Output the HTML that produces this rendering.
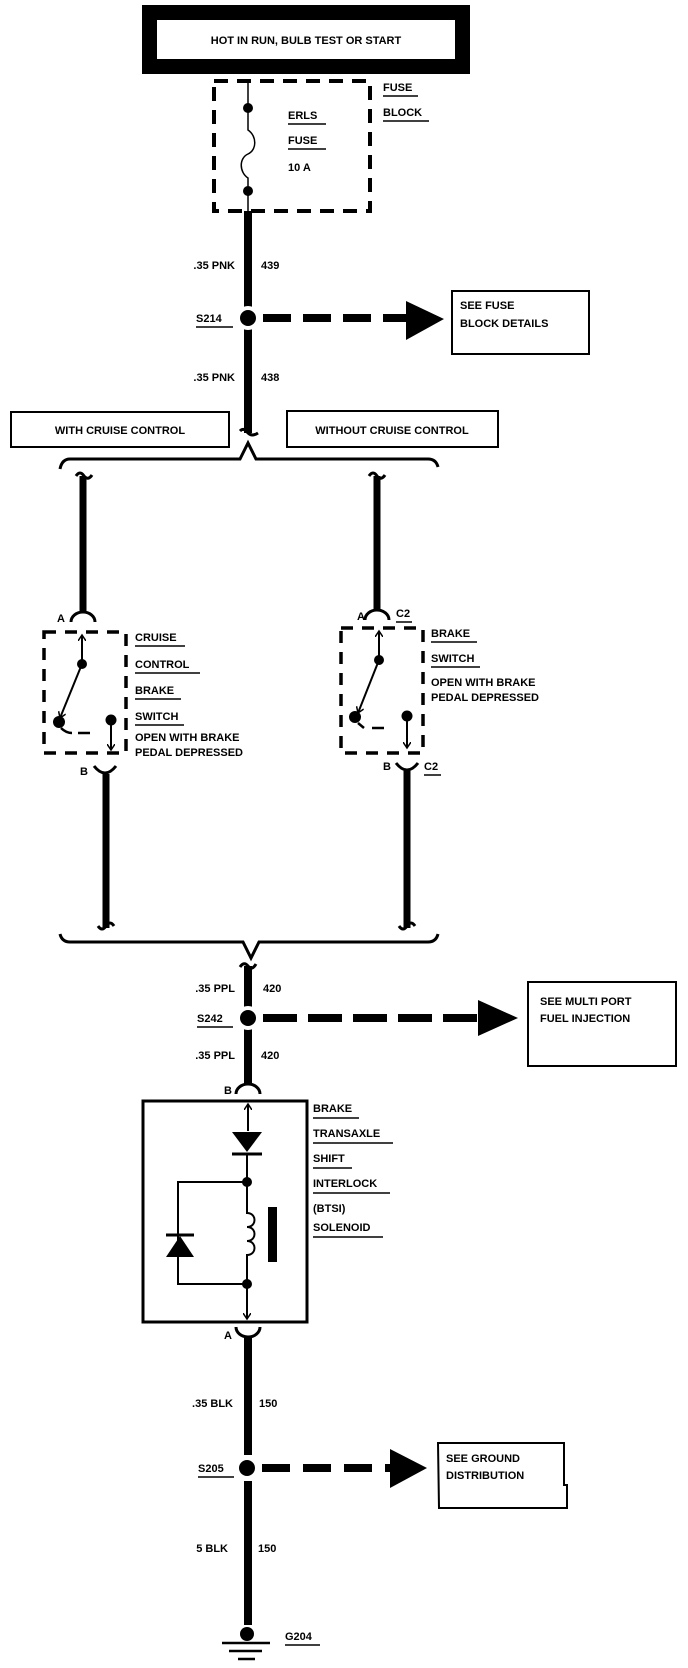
<!DOCTYPE html>
<html><head><meta charset="utf-8"><style>
html,body{margin:0;padding:0;background:#fff;}
svg{display:block;}
text{font-family:"Liberation Sans",sans-serif;font-weight:bold;font-size:11px;fill:#000;}
</style></head><body>
<svg width="688" height="1668" viewBox="0 0 688 1668" xmlns="http://www.w3.org/2000/svg">
<defs>
<marker id="ah" markerWidth="8" markerHeight="8" refX="6" refY="4" orient="auto" markerUnits="userSpaceOnUse"><path d="M0,0 L6,4 L0,8" fill="none" stroke="#000" stroke-width="1.5"/></marker>
</defs>
<!-- top box -->
<rect x="149.5" y="12.5" width="313" height="54" fill="#fff" stroke="#000" stroke-width="15"/>
<text x="306" y="44" text-anchor="middle" font-size="12">HOT IN RUN, BULB TEST OR START</text>
<g transform="translate(-5,0)">
<!-- fuse block -->
<rect x="219" y="81" width="156" height="130" fill="none" stroke="#000" stroke-width="4" stroke-dasharray="14,9"/>
<path d="M253,81 V108 M253,108 V130 C262,136 262,150 253,154 C244,158 244,172 253,178 V191" fill="none" stroke="#000" stroke-width="1.5"/>
<circle cx="253" cy="108" r="5"/><circle cx="253" cy="191" r="5"/>
<line x1="253" y1="191" x2="253" y2="211" stroke="#000" stroke-width="1.5"/>
<text x="293" y="119">ERLS</text><line x1="293" y1="124" x2="331" y2="124" stroke="#000" stroke-width="1.5"/>
<text x="293" y="144">FUSE</text><line x1="293" y1="149" x2="331" y2="149" stroke="#000" stroke-width="1.5"/>
<text x="293" y="171">10 A</text>
<text x="388" y="91">FUSE</text><line x1="388" y1="96" x2="423" y2="96" stroke="#000" stroke-width="1.5"/>
<text x="388" y="116">BLOCK</text><line x1="388" y1="121" x2="434" y2="121" stroke="#000" stroke-width="1.5"/>
<!-- wire to S214 -->
<line x1="253" y1="211" x2="253" y2="433" stroke="#000" stroke-width="8"/>
<text x="240" y="269" text-anchor="end">.35 PNK</text><text x="266" y="269">439</text>
<circle cx="253" cy="318" r="12" fill="#fff"/><circle cx="253" cy="318" r="8"/>
<text x="201" y="322">S214</text><line x1="201" y1="327" x2="238" y2="327" stroke="#000" stroke-width="1.5"/>
<line x1="268" y1="318" x2="412" y2="318" stroke="#000" stroke-width="8" stroke-dasharray="28,12"/>
<polygon points="411,301 449,319 411,340" fill="#000"/>
<rect x="457" y="291" width="137" height="63" fill="none" stroke="#000" stroke-width="2"/>
<text x="465" y="309">SEE FUSE</text><text x="465" y="327">BLOCK DETAILS</text>
<text x="240" y="381" text-anchor="end">.35 PNK</text><text x="266" y="381">438</text>
<path d="M245,431 Q249,427 253,433 Q257,437 263,433" fill="none" stroke="#000" stroke-width="3"/>
</g>
<!-- option boxes -->
<rect x="11" y="412" width="218" height="35" fill="none" stroke="#000" stroke-width="2"/>
<text x="120" y="434" text-anchor="middle">WITH CRUISE CONTROL</text>
<rect x="287" y="411" width="211" height="36" fill="none" stroke="#000" stroke-width="2"/>
<text x="392" y="434" text-anchor="middle">WITHOUT CRUISE CONTROL</text>
<!-- top brace -->
<path d="M60,469 Q62,459 70,459 H240 L248,443 L256,459 H428 Q436,459 438,467" fill="none" stroke="#000" stroke-width="3"/>
<!-- left branch -->
<g transform="translate(-3,0)">
<path d="M79,476 Q83,470 87,476 Q91,481 95,475" fill="none" stroke="#000" stroke-width="3"/>
<line x1="86" y1="476" x2="86" y2="613" stroke="#000" stroke-width="7"/>
<path d="M74,622 A12,10 0 0 1 98,622" fill="none" stroke="#000" stroke-width="3"/>
<text x="60" y="622">A</text>
</g>
<rect x="44" y="632" width="82" height="121" fill="none" stroke="#000" stroke-width="3.5" stroke-dasharray="12,9"/>
<line x1="82" y1="664" x2="82" y2="635" stroke="#000" stroke-width="2" marker-end="url(#ah)"/>
<circle cx="82" cy="664" r="5"/>
<line x1="82" y1="664" x2="60" y2="718" stroke="#000" stroke-width="2" marker-end="url(#ah)"/>
<circle cx="59" cy="722" r="6"/>
<path d="M61,728 Q66,733 72,733 M78,733 H90" fill="none" stroke="#000" stroke-width="2.5"/>
<circle cx="111" cy="720" r="5.5"/>
<line x1="111" y1="720" x2="111" y2="750" stroke="#000" stroke-width="2" marker-end="url(#ah)"/>
<g transform="translate(-8,0)">
<path d="M102,766 Q113,780 124,766" fill="none" stroke="#000" stroke-width="3"/>
<text x="88" y="775">B</text>
<line x1="114" y1="774" x2="114" y2="928" stroke="#000" stroke-width="7"/>
<path d="M106,926 Q110,932 114,926 Q118,920 122,926" fill="none" stroke="#000" stroke-width="3"/>
</g>
<g>
<text x="135" y="641">CRUISE</text><line x1="135" y1="646" x2="185" y2="646" stroke="#000" stroke-width="1.5"/>
<text x="135" y="668">CONTROL</text><line x1="135" y1="673" x2="200" y2="673" stroke="#000" stroke-width="1.5"/>
<text x="135" y="694">BRAKE</text><line x1="135" y1="699" x2="181" y2="699" stroke="#000" stroke-width="1.5"/>
<text x="135" y="720">SWITCH</text><line x1="135" y1="725" x2="184" y2="725" stroke="#000" stroke-width="1.5"/>
<text x="135" y="741">OPEN WITH BRAKE</text>
<text x="135" y="756">PEDAL DEPRESSED</text>
</g>
<!-- right branch -->
<g transform="translate(-6,0)">
<path d="M375,476 Q379,470 383,476 Q387,481 391,475" fill="none" stroke="#000" stroke-width="3"/>
<line x1="383" y1="476" x2="383" y2="611" stroke="#000" stroke-width="7"/>
<path d="M371,620 A12,10 0 0 1 395,620" fill="none" stroke="#000" stroke-width="3"/>
<text x="363" y="620">A</text>
<text x="402" y="617">C2</text><line x1="402" y1="622" x2="418" y2="622" stroke="#000" stroke-width="1.5"/>
<rect x="347" y="628" width="82" height="125" fill="none" stroke="#000" stroke-width="3.5" stroke-dasharray="12,9"/>
<line x1="385" y1="660" x2="385" y2="631" stroke="#000" stroke-width="2" marker-end="url(#ah)"/>
<circle cx="385" cy="660" r="5"/>
<line x1="385" y1="660" x2="364" y2="713" stroke="#000" stroke-width="2" marker-end="url(#ah)"/>
<circle cx="361" cy="717" r="6"/>
<path d="M364,723 L370,728 M378,728 H390" fill="none" stroke="#000" stroke-width="2.5"/>
<circle cx="413" cy="716" r="5.5"/>
<line x1="413" y1="716" x2="413" y2="748" stroke="#000" stroke-width="2" marker-end="url(#ah)"/>
<path d="M402,763 Q413,777 424,763" fill="none" stroke="#000" stroke-width="3"/>
<text x="389" y="770">B</text>
<text x="430" y="770">C2</text><line x1="430" y1="775" x2="447" y2="775" stroke="#000" stroke-width="1.5"/>
<line x1="413" y1="771" x2="413" y2="928" stroke="#000" stroke-width="7"/>
<path d="M405,926 Q409,932 413,926 Q417,920 421,926" fill="none" stroke="#000" stroke-width="3"/>
<text x="437" y="637">BRAKE</text><line x1="437" y1="642" x2="483" y2="642" stroke="#000" stroke-width="1.5"/>
<text x="437" y="662">SWITCH</text><line x1="437" y1="667" x2="486" y2="667" stroke="#000" stroke-width="1.5"/>
<text x="437" y="686">OPEN WITH BRAKE</text>
<text x="437" y="701">PEDAL DEPRESSED</text>
</g>
<!-- bottom brace -->
<path d="M60,934 Q62,942 70,942 H243 L251,958 L259,942 H428 Q436,942 438,934" fill="none" stroke="#000" stroke-width="3"/>
<g transform="translate(-5,0)">
<!-- PPL -->
<path d="M245,967 Q249,961 253,966 Q257,971 261,964" fill="none" stroke="#000" stroke-width="3"/>
<line x1="253" y1="966" x2="253" y2="1085" stroke="#000" stroke-width="8"/>
<text x="240" y="992" text-anchor="end">.35 PPL</text><text x="268" y="992">420</text>
<circle cx="253" cy="1018" r="12" fill="#fff"/><circle cx="253" cy="1018" r="8"/>
<text x="202" y="1022">S242</text><line x1="202" y1="1027" x2="238" y2="1027" stroke="#000" stroke-width="1.5"/>
<line x1="268" y1="1018" x2="484" y2="1018" stroke="#000" stroke-width="8" stroke-dasharray="34,11"/>
<polygon points="483,1000 523,1018 483,1036" fill="#000"/>
<rect x="533" y="982" width="148" height="84" fill="none" stroke="#000" stroke-width="2"/>
<text x="545" y="1005">SEE MULTI PORT</text><text x="545" y="1022">FUEL INJECTION</text>
<text x="240" y="1059" text-anchor="end">.35 PPL</text><text x="266" y="1059">420</text>
<path d="M241,1094 A12,10 0 0 1 265,1094" fill="none" stroke="#000" stroke-width="3"/>
<text x="229" y="1094">B</text>
<!-- solenoid -->
<rect x="148" y="1101" width="164" height="221" fill="none" stroke="#000" stroke-width="3"/>
<line x1="253" y1="1131" x2="253" y2="1104" stroke="#000" stroke-width="2" marker-end="url(#ah)"/>
<polygon points="237,1132 267,1132 252,1152" fill="#000"/>
<line x1="237" y1="1154" x2="267" y2="1154" stroke="#000" stroke-width="3"/>
<line x1="252" y1="1154" x2="252" y2="1182" stroke="#000" stroke-width="2"/>
<circle cx="252" cy="1182" r="5"/>
<path d="M252,1182 H183 V1284 H252" fill="none" stroke="#000" stroke-width="2"/>
<polygon points="171,1257 199,1257 185,1236" fill="#000"/>
<line x1="171" y1="1235" x2="199" y2="1235" stroke="#000" stroke-width="3"/>
<path d="M252,1182 V1213 C262,1213 262,1227 252,1227 C262,1227 262,1241 252,1241 C262,1241 262,1255 252,1255 V1284" fill="none" stroke="#000" stroke-width="2"/>
<rect x="273" y="1207" width="9" height="55" fill="#000"/>
<circle cx="252" cy="1284" r="5"/>
<line x1="252" y1="1284" x2="252" y2="1319" stroke="#000" stroke-width="2" marker-end="url(#ah)"/>
<path d="M241,1327 A12,10 0 0 0 265,1327" fill="none" stroke="#000" stroke-width="3"/>
<text x="229" y="1339">A</text>
<text x="318" y="1112">BRAKE</text><line x1="318" y1="1118" x2="364" y2="1118" stroke="#000" stroke-width="1.5"/>
<text x="318" y="1137">TRANSAXLE</text><line x1="318" y1="1143" x2="398" y2="1143" stroke="#000" stroke-width="1.5"/>
<text x="318" y="1162">SHIFT</text><line x1="318" y1="1168" x2="357" y2="1168" stroke="#000" stroke-width="1.5"/>
<text x="318" y="1187">INTERLOCK</text><line x1="318" y1="1193" x2="395" y2="1193" stroke="#000" stroke-width="1.5"/>
<text x="318" y="1212">(BTSI)</text>
<text x="318" y="1231">SOLENOID</text><line x1="318" y1="1237" x2="388" y2="1237" stroke="#000" stroke-width="1.5"/>
</g>
<!-- BLK -->
<line x1="248" y1="1336" x2="248" y2="1455" stroke="#000" stroke-width="8"/>
<text x="233" y="1407" text-anchor="end">.35 BLK</text><text x="259" y="1407">150</text>
<circle cx="247" cy="1468" r="8"/>
<text x="198" y="1472">S205</text><line x1="198" y1="1477" x2="234" y2="1477" stroke="#000" stroke-width="1.5"/>
<line x1="262" y1="1468" x2="392" y2="1468" stroke="#000" stroke-width="8" stroke-dasharray="28,13"/>
<polygon points="390,1449 427,1468 390,1488" fill="#000"/>
<path d="M438,1443 H564 V1485 H567 V1508 H439 Z" fill="none" stroke="#000" stroke-width="2"/>
<text x="446" y="1462">SEE GROUND</text><text x="446" y="1479">DISTRIBUTION</text>
<line x1="248" y1="1481" x2="248" y2="1625" stroke="#000" stroke-width="8"/>
<text x="228" y="1552" text-anchor="end">5 BLK</text><text x="258" y="1552">150</text>
<circle cx="247" cy="1634" r="7"/>
<line x1="222" y1="1643" x2="270" y2="1643" stroke="#000" stroke-width="2.5"/>
<line x1="229" y1="1651" x2="262" y2="1651" stroke="#000" stroke-width="2.5"/>
<line x1="238" y1="1659" x2="255" y2="1659" stroke="#000" stroke-width="2.5"/>
<text x="285" y="1640">G204</text><line x1="285" y1="1645" x2="320" y2="1645" stroke="#000" stroke-width="1.5"/>
</svg>
</body></html>
